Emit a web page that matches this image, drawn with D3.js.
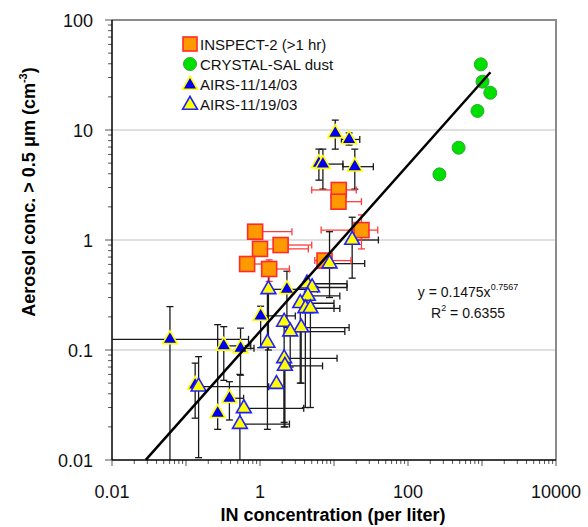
<!DOCTYPE html>
<html>
<head>
<meta charset="utf-8">
<script src="https://cdn.jsdelivr.net/npm/d3@7"></script>
<style>
  body { margin: 0; background: #fff; }
  svg { font-family: Arial, "Liberation Sans", sans-serif; }
</style>
</head>
<body>
<svg id="chart" width="588" height="527"></svg>
<script>
// tick labels
const xTicks = [0.01, 1, 100, 10000];
const yTicks = [0.01, 0.1, 1, 10, 100];
const gridValues = [0.1, 1, 10];

// series: [x, y, xlo, xhi, ylo, yhi] (null = no bar)
const inspect2 = [
  [0.86, 1.19, null, 2.7, null, null],
  [1.0, 0.83, null, 4.5, null, null],
  [1.9, 0.90, null, 5.0, null, null],
  [0.67, 0.605, null, 1.3, null, null],
  [1.33, 0.545, null, 2.5, 0.42, 0.66],
  [7.45, 0.65, 5.5, 17, null, null],
  [23.5, 1.23, 6.7, 39, 0.83, 1.69],
  [11.6, 2.85, 5.0, 20, null, null],
  [11.5, 2.23, null, 23.5, 2.05, null]
];
const crystalSal = [
  [964, 39.5], [1016, 27.5], [1294, 21.8], [868, 14.9], [483, 6.9], [266, 3.95]
];
const airs1114 = [
  [10.4, 9.33, null, null, 6.7, 12.3],
  [16.0, 8.2, 12.6, 22.3, 7.3, 9.4],
  [6.25, 4.98, null, null, 3.5, 6.7],
  [7.08, 4.9, null, 13.2, 2.9, 6.7],
  [19.1, 4.64, 13.2, 34, 2.9, 6.7],
  [2.31, 0.356, null, 6, 0.16, 0.52],
  [1.02, 0.204, null, 3, 0.105, 0.25],
  [0.0607, 0.125, 0.005, 0.70, 0.005, 0.248],
  [0.324, 0.109, null, 0.75, 0.053, 0.163],
  [0.546, 0.1035, null, 0.83, 0.059, 0.158],
  [0.133, 0.048, null, null, 0.024, 0.076],
  [0.386, 0.0364, null, 0.6, 0.0231, 0.0515],
  [0.268, 0.0266, null, null, 0.019, 0.17]
];
const airs1119 = [
  [17.6, 1.0, null, 39.8, 0.45, 1.61],
  [8.7, 0.61, null, 26, 0.3, 1.19],
  [4.32, 0.40, null, 15, 0.22, null],
  [5.06, 0.37, null, 15, null, null],
  [4.43, 0.31, null, 12, null, null],
  [1.30, 0.356, null, 2.4, 0.1, 0.5],
  [3.5, 0.266, null, 10, 0.05, null],
  [4.1, 0.239, null, 12, 0.03, null],
  [4.8, 0.239, null, 10, 0.03, null],
  [2.12, 0.18, null, null, 0.02, null],
  [3.6, 0.16, null, 16, 0.05, null],
  [2.56, 0.147, null, 14, 0.07, null],
  [1.26, 0.116, null, null, 0.019, 0.35],
  [2.12, 0.084, null, 11, 0.022, null],
  [2.17, 0.0716, null, 7, 0.02, null],
  [1.67, 0.049, null, null, null, null],
  [0.148, 0.0464, null, 1.31, 0.0105, 0.087],
  [0.605, 0.0295, null, 3.9, null, null],
  [0.535, 0.0212, null, 2.5, 0.005, 0.06]
];

// power-law fit
const fitA = 0.1475, fitB = 0.7567;
const fitXRange = [0.0286, 1300];
const legendLabels = ["INSPECT-2 (>1 hr)", "CRYSTAL-SAL dust", "AIRS-11/14/03", "AIRS-11/19/03"];

const svg = d3.select("#chart");
const pLeft = 112, pRight = 556, pTop = 20, pBottom = 460;

const x = d3.scaleLog().domain([0.01, 10000]).range([pLeft, pRight]);
const y = d3.scaleLog().domain([0.01, 100]).range([pBottom, pTop]);

svg.append("defs").append("clipPath").attr("id", "plotclip")
  .append("rect").attr("x", pLeft).attr("y", pTop)
  .attr("width", pRight - pLeft).attr("height", pBottom - pTop);

// grid
svg.append("g").selectAll("line").data(gridValues).enter().append("line")
  .attr("x1", pLeft).attr("x2", pRight)
  .attr("y1", d => y(d)).attr("y2", d => y(d))
  .attr("stroke", "#d4d4d4").attr("stroke-width", 1.5);

// plot frame (top/right gray)
svg.append("path")
  .attr("d", `M${pLeft},${pTop}H${pRight}V${pBottom}`)
  .attr("fill", "none").attr("stroke", "#8c8c8c").attr("stroke-width", 2);

// minor ticks
const minorX = [], minorY = [];
for (let e = -2; e < 4; e++) for (let m = 1; m < 10; m++) minorX.push(m * Math.pow(10, e));
for (let e = -2; e < 2; e++) for (let m = 1; m < 10; m++) minorY.push(m * Math.pow(10, e));
minorX.push(10000); minorY.push(100);
const isMajor = d => Math.abs(Math.log10(d) - Math.round(Math.log10(d))) < 1e-9;

svg.append("g").selectAll("line").data(minorX).enter().append("line")
  .attr("x1", d => x(d)).attr("x2", d => x(d))
  .attr("y1", pBottom).attr("y2", d => isMajor(d) ? pBottom + 6 : pBottom + 4)
  .attr("stroke", "#555").attr("stroke-width", 1);
svg.append("g").selectAll("line").data(minorY).enter().append("line")
  .attr("y1", d => y(d)).attr("y2", d => y(d))
  .attr("x1", pLeft).attr("x2", d => isMajor(d) ? pLeft - 7 : pLeft - 4)
  .attr("stroke", "#555").attr("stroke-width", 1);

// axes lines
svg.append("line").attr("x1", pLeft).attr("x2", pRight).attr("y1", pBottom).attr("y2", pBottom)
  .attr("stroke", "#000").attr("stroke-width", 1.5);
svg.append("line").attr("x1", pLeft).attr("x2", pLeft).attr("y1", pTop).attr("y2", pBottom)
  .attr("stroke", "#000").attr("stroke-width", 1.5);

// tick labels
svg.append("g").selectAll("text").data(xTicks).enter().append("text")
  .attr("x", d => x(d)).attr("y", 498)
  .attr("text-anchor", "middle").attr("font-size", 18).attr("fill", "#111")
  .text(d => d3.format("~g")(d));
svg.append("g").selectAll("text").data(yTicks).enter().append("text")
  .attr("x", 93).attr("y", d => y(d) + 7)
  .attr("text-anchor", "end").attr("font-size", 18).attr("fill", "#111")
  .text(d => d3.format("~g")(d));

// axis titles
svg.append("text").attr("x", 333).attr("y", 521)
  .attr("text-anchor", "middle").attr("font-size", 18).attr("font-weight", "bold")
  .text("IN concentration (per liter)");
const yt = svg.append("text").attr("transform", "translate(35,192) rotate(-90)")
  .attr("text-anchor", "middle").attr("font-size", 18).attr("font-weight", "bold");
yt.append("tspan").text("Aerosol conc. > 0.5 μm (cm");
yt.append("tspan").attr("font-size", 11).attr("dy", -8).text("-3");
yt.append("tspan").attr("dy", 8).text(")");

// error bars
const plot = svg.append("g").attr("clip-path", "url(#plotclip)");
function errorBars(data, color) {
  const g = plot.append("g").attr("stroke", color).attr("stroke-width", 1.3).attr("fill", "none");
  data.forEach(d => {
    const px = x(d[0]), py = y(d[1]);
    if (d[2] != null) {
      g.append("line").attr("x1", x(d[2])).attr("x2", px).attr("y1", py).attr("y2", py);
      g.append("line").attr("x1", x(d[2])).attr("x2", x(d[2])).attr("y1", py - 3.5).attr("y2", py + 3.5);
    }
    if (d[3] != null) {
      g.append("line").attr("x1", px).attr("x2", x(d[3])).attr("y1", py).attr("y2", py);
      g.append("line").attr("x1", x(d[3])).attr("x2", x(d[3])).attr("y1", py - 3.5).attr("y2", py + 3.5);
    }
    if (d[4] != null) {
      g.append("line").attr("x1", px).attr("x2", px).attr("y1", py).attr("y2", y(d[4]));
      g.append("line").attr("x1", px - 3.5).attr("x2", px + 3.5).attr("y1", y(d[4])).attr("y2", y(d[4]));
    }
    if (d[5] != null) {
      g.append("line").attr("x1", px).attr("x2", px).attr("y1", py).attr("y2", y(d[5]));
      g.append("line").attr("x1", px - 3.5).attr("x2", px + 3.5).attr("y1", y(d[5])).attr("y2", y(d[5]));
    }
  });
}
errorBars(airs1114, "#1a1a1a");
errorBars(airs1119, "#1a1a1a");
errorBars(inspect2, "#ff3b3b");

// markers
const tri = d3.symbol(d3.symbolTriangle).size(95);
function triangles(data, fill, stroke) {
  plot.append("g").selectAll("path").data(data).enter().append("path")
    .attr("d", tri)
    .attr("transform", d => `translate(${x(d[0])},${y(d[1])})`)
    .attr("fill", fill).attr("stroke", stroke).attr("stroke-width", 1.6);
}
plot.append("g").selectAll("rect").data(inspect2).enter().append("rect")
  .attr("x", d => x(d[0]) - 7.5).attr("y", d => y(d[1]) - 7.5)
  .attr("width", 15).attr("height", 15)
  .attr("fill", "#ff9900").attr("stroke", "#ff2a2a").attr("stroke-width", 1.6);
triangles(airs1114, "#0000ee", "#ffff00");
triangles(airs1119, "#ffff00", "#2020ff");
plot.append("g").selectAll("circle").data(crystalSal).enter().append("circle")
  .attr("cx", d => x(d[0])).attr("cy", d => y(d[1])).attr("r", 6.5)
  .attr("fill", "#00e000").attr("stroke", "#2fa82f").attr("stroke-width", 1);

// fit line
plot.append("line")
  .attr("x1", x(fitXRange[0])).attr("y1", y(fitA * Math.pow(fitXRange[0], fitB)))
  .attr("x2", x(fitXRange[1])).attr("y2", y(fitA * Math.pow(fitXRange[1], fitB)))
  .attr("stroke", "#000").attr("stroke-width", 2.5);

// equation
const eq = svg.append("text").attr("x", 468).attr("y", 297)
  .attr("text-anchor", "middle").attr("font-size", 14).attr("fill", "#111");
eq.append("tspan").text("y = 0.1475x");
eq.append("tspan").attr("font-size", 9).attr("dy", -7).text("0.7567");
const r2 = svg.append("text").attr("x", 468).attr("y", 318)
  .attr("text-anchor", "middle").attr("font-size", 14).attr("fill", "#111");
r2.append("tspan").text("R");
r2.append("tspan").attr("font-size", 9).attr("dy", -7).text("2");
r2.append("tspan").attr("dy", 7).text(" = 0.6355");

// legend
const lg = svg.append("g");
const rowY = i => 44 + i * 20;
lg.append("rect").attr("x", 183).attr("y", rowY(0) - 7).attr("width", 14).attr("height", 14)
  .attr("fill", "#ff9900").attr("stroke", "#ff2a2a").attr("stroke-width", 1.6);
lg.append("circle").attr("cx", 190).attr("cy", rowY(1)).attr("r", 6.5)
  .attr("fill", "#00e000").attr("stroke", "#2fa82f");
lg.append("path").attr("d", tri).attr("transform", `translate(190,${rowY(2) + 1})`)
  .attr("fill", "#0000ee").attr("stroke", "#ffff00").attr("stroke-width", 1.6);
lg.append("path").attr("d", tri).attr("transform", `translate(190,${rowY(3) + 1})`)
  .attr("fill", "#ffff00").attr("stroke", "#2020ff").attr("stroke-width", 1.6);
lg.selectAll("text").data(legendLabels).enter().append("text")
  .attr("x", 200).attr("y", (d, i) => rowY(i) + 6)
  .attr("font-size", 15).attr("fill", "#111")
  .text(d => d);
</script>
</body>
</html>
